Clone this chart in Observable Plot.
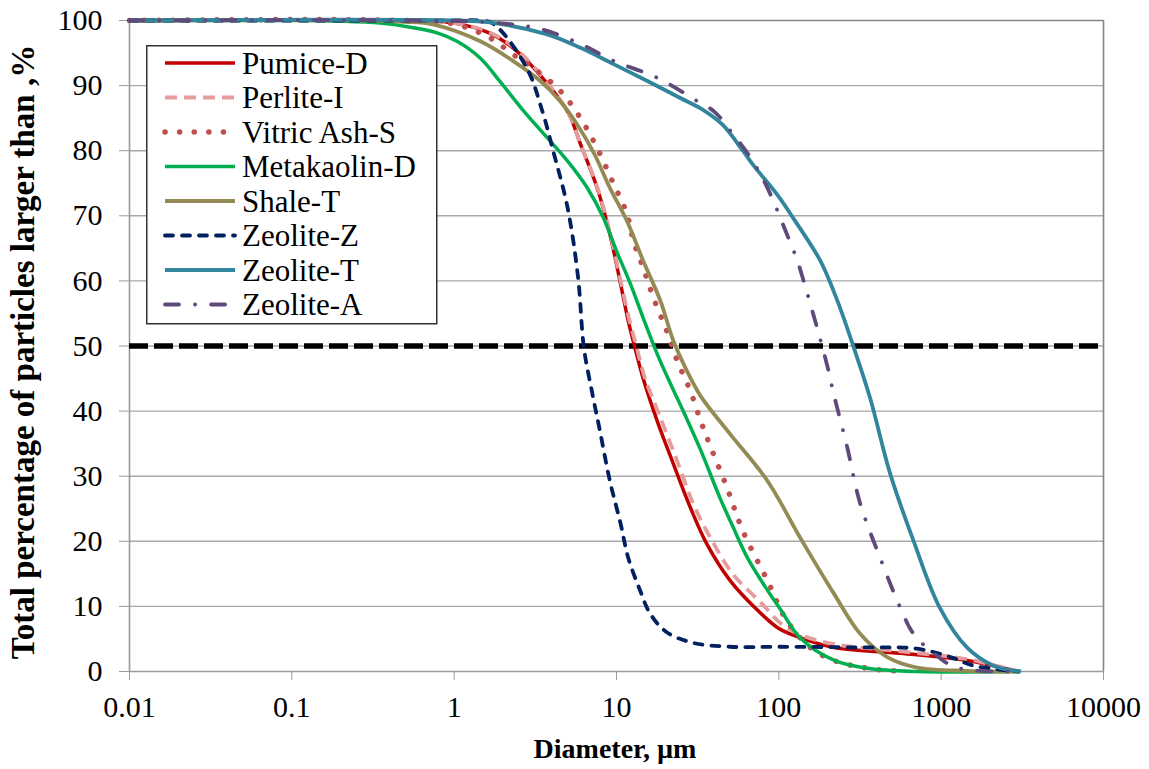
<!DOCTYPE html>
<html><head><meta charset="utf-8">
<script src="https://cdn.jsdelivr.net/npm/d3@7"></script>
<script src="https://cdn.jsdelivr.net/npm/@observablehq/plot@0.6"></script>
<style>
body{margin:0;background:#fff;}
#wrap{position:relative;width:1149px;height:769px;overflow:hidden;}
#legend{position:absolute;left:146px;top:45px;}
</style>
</head><body><div id="wrap"></div>
<script>
// ---- axis ticks ----
const xTicks = [0.01, 0.1, 1, 10, 100, 1000, 10000];
const xTickLabels = ["0.01", "0.1", "1", "10", "100", "1000", "10000"];
const yTicks = [0, 10, 20, 30, 40, 50, 60, 70, 80, 90, 100];
const xTitle = "Diameter, µm";
const yTitle = "Total percentage of particles larger than ,%";
const refLevel = [50];

// ---- series ----
const seriesNames = ["Pumice-D", "Perlite-I", "Vitric Ash-S", "Metakaolin-D", "Shale-T", "Zeolite-Z", "Zeolite-T", "Zeolite-A"];

const pumiceD_d = [0.01, 0.5, 1.0, 1.6, 2.3, 3.2, 5, 6, 7.6, 9.1, 10.6, 11.8, 13, 14.6, 17.8, 22.4, 28.5, 36, 50, 74, 100, 135, 218, 560, 1440, 3000];
const pumiceD_v = [100, 100, 99.6, 98.2, 95.8, 92.3, 86, 81, 74.3, 67.2, 59.5, 53.9, 49.7, 45, 38.5, 31.9, 25.2, 19.6, 14, 9.4, 6.6, 5.2, 3.7, 2.8, 1.7, 0];

const perliteI_d = [0.01, 0.5, 1.0, 1.6, 2.3, 3.2, 5, 6, 7.6, 9.1, 10.6, 12, 13.3, 15, 18.5, 23.5, 30, 38, 52, 78, 105, 140, 220, 560, 1440, 3000];
const perliteI_v = [100, 100, 99.6, 98.3, 96, 92.5, 86, 81, 74.5, 67.5, 60, 54, 49.8, 45, 39.2, 32.5, 25.5, 20.5, 15, 10.5, 7.2, 5.5, 4.2, 3.1, 1.9, 0];

const vitricS_d = [0.01, 0.5, 1.02, 1.67, 2.3, 3.07, 4.5, 6, 7.6, 9.6, 11.6, 12.7, 14.6, 16.9, 20.4, 23.7, 28.5, 33, 38, 48, 60, 85, 112, 156, 218, 350, 600];
const vitricS_v = [100, 100, 99.4, 97.3, 94.8, 92.7, 89.2, 85, 80.4, 74.9, 70.3, 66.2, 62, 57.4, 52.3, 47.7, 43.1, 38.5, 34.5, 28.2, 21.6, 14, 7.8, 3.7, 1.7, 0.5, 0];

const metakaolinD_d = [0.01, 0.1, 0.2, 0.35, 0.56, 0.785, 1.04, 1.45, 1.92, 2.66, 3.74, 5, 6.6, 8.3, 10, 12.2, 14.6, 17.8, 21.5, 26, 33, 43.5, 52, 64, 85, 102, 135, 220, 350, 700, 3000];
const metakaolinD_v = [100, 100, 99.9, 99.6, 98.9, 98.1, 96.8, 94.2, 90.6, 86.2, 82, 78.4, 74.3, 69.7, 64.6, 59.5, 54.3, 48.8, 44.2, 39.8, 34, 26.6, 22.3, 17.5, 12.5, 9.6, 5.2, 1.7, 0.5, 0, 0];

const shaleT_d = [0.01, 0.3, 0.5, 0.74, 1.45, 2.3, 3.4, 4.5, 5.7, 7.3, 9.1, 11.6, 14.6, 18.6, 22.4, 27, 33, 50, 85, 135, 218, 317, 465, 710, 1440, 3000];
const shaleT_v = [100, 100, 99.8, 99.4, 96.8, 93.8, 90.7, 87.6, 84.1, 79.5, 74.3, 69.2, 63.1, 57, 50.8, 46.3, 42.3, 36.5, 29.3, 20.6, 12, 5.8, 2.2, 0.6, 0.1, 0];

const zeoliteZ_d = [0.01, 1.0, 1.4, 1.74, 2.8, 3.5, 4.07, 5, 5.8, 6.3, 7.1, 7.9, 9.1, 10.6, 11.8, 14, 16.1, 20.5, 29.6, 50, 100, 300, 710, 1180, 1580, 3000];
const zeoliteZ_v = [100, 100, 100, 99.5, 92.7, 86, 80, 71.2, 60.5, 49.7, 42.7, 37, 29.3, 22.7, 17.5, 12.4, 8.9, 6, 4.4, 3.8, 3.8, 3.7, 3.5, 2.1, 0.9, 0];

const zeoliteT_d = [0.01, 1.0, 1.66, 3.7, 6, 9.6, 15.5, 24.7, 33, 45, 60, 70, 98, 123, 180, 229, 290, 365, 485, 675, 980, 1440, 2100, 3100];
const zeoliteT_v = [100, 100, 99.7, 97.9, 95.8, 93.3, 90.7, 88.1, 86.5, 84, 80, 77.7, 73.2, 69.6, 63.1, 57, 49.7, 42, 30.4, 20.1, 9.8, 3.7, 0.9, 0];

const zeoliteA_d = [0.01, 0.56, 1.66, 3.4, 6, 9.6, 17.8, 31.5, 40, 52, 67, 85, 112, 130, 148, 172, 200, 216, 264, 317, 420, 560, 675, 900, 1250, 3000];
const zeoliteA_v = [100, 100, 99.7, 98.7, 96.4, 93.8, 91.2, 87.6, 86, 82.6, 78.9, 74.3, 67.2, 63.1, 58.5, 52.8, 46.7, 43, 34.4, 25.8, 17.5, 9.8, 5.8, 2.8, 0.6, 0];

const seriesD = [pumiceD_d, perliteI_d, vitricS_d, metakaolinD_d, shaleT_d, zeoliteZ_d, zeoliteT_d, zeoliteA_d];
const seriesV = [pumiceD_v, perliteI_v, vitricS_v, metakaolinD_v, shaleT_v, zeoliteZ_v, zeoliteT_v, zeoliteA_v];

// ---- styles ----
const styles = [
  {stroke: "#c00000", strokeWidth: 3.5, dash: null, cap: "butt"},
  {stroke: "#e59c9c", strokeWidth: 3.8, dash: "12,7", cap: "butt"},
  {stroke: "#c0504d", strokeWidth: 5.5, dash: "0.1,14.5", cap: "round"},
  {stroke: "#00b050", strokeWidth: 3.5, dash: null, cap: "butt"},
  {stroke: "#948a54", strokeWidth: 3.8, dash: null, cap: "butt"},
  {stroke: "#002060", strokeWidth: 3.8, dash: "8,9", cap: "round"},
  {stroke: "#31859c", strokeWidth: 3.8, dash: null, cap: "butt"},
  {stroke: "#604a7b", strokeWidth: 3.8, dash: "14,16,0.1,16", cap: "round"}
];

const FONT = "Liberation Serif";
const labelOf = new Map(xTicks.map((t, i) => [t, xTickLabels[i]]));

const lineMarks = seriesNames.map((name, k) => {
  const rows = seriesD[k].map((d, i) => ({d, v: seriesV[k][i]}));
  const s = styles[k];
  return Plot.line(rows, {
    x: "d", y: "v", curve: "catmull-rom",
    stroke: s.stroke, strokeWidth: s.strokeWidth,
    strokeDasharray: s.dash || undefined, strokeLinecap: s.cap, strokeLinejoin: "round"
  });
});

const chart = Plot.plot({
  width: 1149, height: 769,
  marginLeft: 129, marginRight: 46, marginTop: 20, marginBottom: 98,
  style: {fontFamily: FONT, background: "white", color: "black"},
  x: {type: "log", domain: [0.01, 10000]},
  y: {domain: [0, 100]},
  marks: [
    Plot.ruleY(yTicks.filter(t => t > 0 && t < 100), {stroke: "#a8a8a8", strokeWidth: 1.4}),
    Plot.ruleY([100], {stroke: "#858585", strokeWidth: 1.6}),
    Plot.ruleX([10000], {stroke: "#858585", strokeWidth: 1.6}),
    Plot.ruleY([0], {stroke: "#9a9a9a", strokeWidth: 1.6}),
    Plot.ruleX([0.01], {stroke: "#9a9a9a", strokeWidth: 1.6}),
    Plot.axisX({ticks: xTicks, tickFormat: d => labelOf.get(d), tickSize: 9, tickPadding: 15,
      stroke: "#9a9a9a", fill: "black", fontSize: 30, fontFamily: FONT, label: null}),
    Plot.axisY({ticks: yTicks, tickFormat: d => String(d), tickSize: 10, tickPadding: 17,
      stroke: "#9a9a9a", fill: "black", fontSize: 30, fontFamily: FONT, label: null}),
    Plot.ruleY(refLevel, {stroke: "black", strokeWidth: 5.5, strokeDasharray: "19,6"}),
    ...lineMarks
  ]
});

const svg = d3.select(chart);
svg.append("text").attr("x", 615).attr("y", 758).attr("text-anchor", "middle").attr("font-family", FONT)
  .attr("font-weight", "bold").attr("font-size", 28).attr("fill", "black").text(xTitle);
svg.append("text").attr("transform", "translate(34,352) rotate(-90)").attr("text-anchor", "middle").attr("font-family", FONT)
  .attr("font-weight", "bold").attr("font-size", 33).attr("fill", "black").text(yTitle);

const wrap = document.getElementById("wrap");
wrap.appendChild(chart);

// ---- legend ----
const lg = d3.select(wrap).append("svg").attr("id", "legend").attr("width", 292).attr("height", 280);
lg.append("rect").attr("x", 0.75).attr("y", 0.75).attr("width", 290).attr("height", 278)
  .attr("fill", "white").attr("stroke", "#333").attr("stroke-width", 1.5);
seriesNames.forEach((name, k) => {
  const cy = 18 + k * 34.5;
  const s = styles[k];
  const ln = lg.append("line").attr("x1", 19).attr("x2", 89).attr("y1", cy).attr("y2", cy)
    .attr("stroke", s.stroke).attr("stroke-width", s.strokeWidth).attr("stroke-linecap", s.cap);
  if (s.dash) ln.attr("stroke-dasharray", s.dash);
  lg.append("text").attr("x", 96).attr("y", cy).attr("dy", "0.35em").attr("font-family", FONT)
    .attr("font-size", 31).attr("fill", "black").text(name);
});
</script>
</body></html>
